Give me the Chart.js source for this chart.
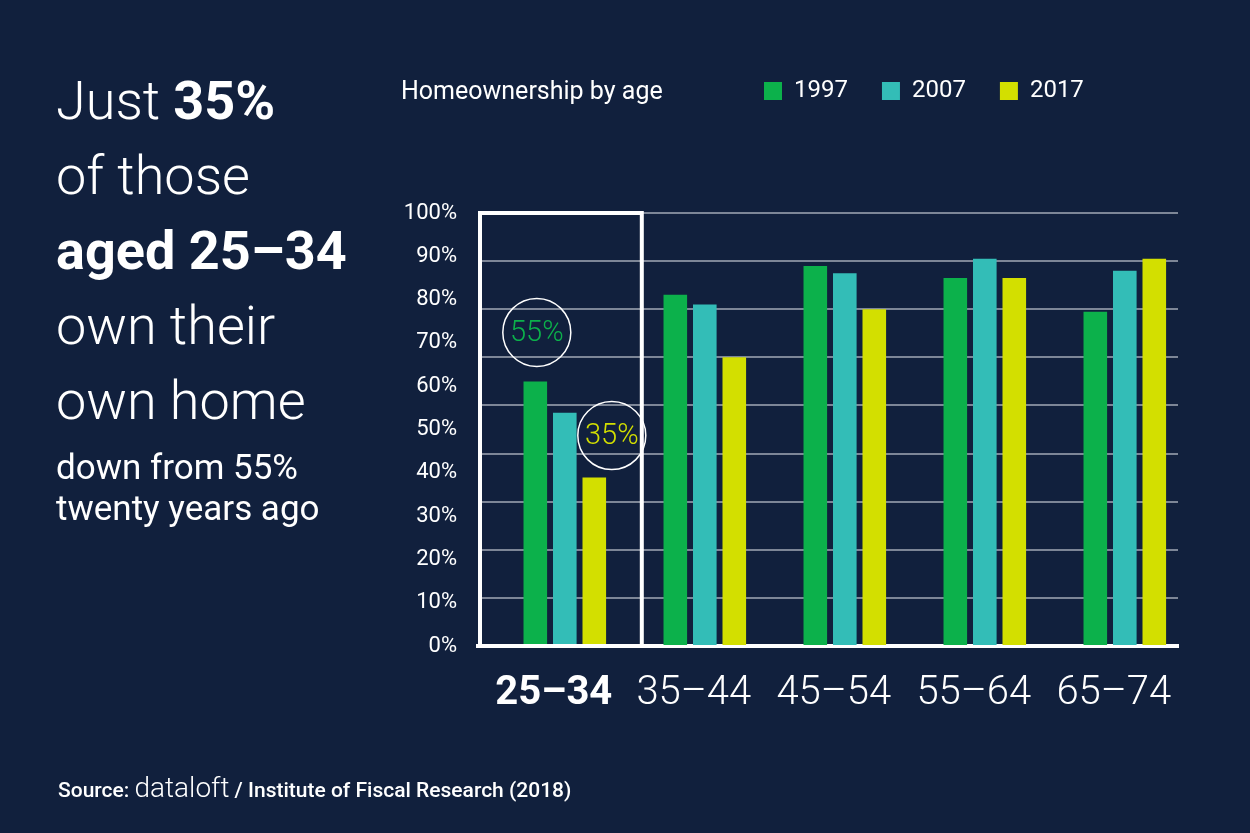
<!DOCTYPE html>
<html>
<head>
<meta charset="utf-8">
<script src="https://cdn.jsdelivr.net/npm/chart.js@4"></script>
<style>
  html, body { margin: 0; padding: 0; background: #11203d; }
  body { width: 1250px; height: 833px; position: relative; overflow: hidden; font-family: Roboto, "Noto Sans", sans-serif; color: #ffffff; }
  #c { position: absolute; left: 0; top: 0; }
  .headline { position: absolute; left: 56px; top: 63px; font-size: 54px; line-height: 75px; font-weight: 300; white-space: nowrap; }
  .headline b { font-weight: 700; }
  .sub { position: absolute; left: 56px; top: 447px; font-size: 35px; line-height: 41px; font-weight: 400; white-space: nowrap; }
  .ctitle { position: absolute; left: 401px; top: 78px; font-size: 25px; line-height: 25px; font-weight: 400; white-space: nowrap; }
  .source { position: absolute; left: 58px; top: 772px; font-size: 28px; line-height: 32px; white-space: nowrap; }
  .source .s { font-size: 21px; font-weight: 500; }
  .source .d { font-size: 28px; font-weight: 300; }
</style>
</head>
<body>
<canvas id="c" width="1250" height="833"></canvas>
<div class="headline">Just <b>35%</b><br>of those<br><b>aged 25–34</b><br>own their<br>own home</div>
<div class="sub">down from 55%<br>twenty years ago</div>
<div class="ctitle">Homeownership by age</div>
<div class="source"><span class="s">Source: </span><span class="d">dataloft</span><span class="s"> / Institute of Fiscal Research (2018)</span></div>
<script>
// ---- Data ----
const categories = ['25–34', '35–44', '45–54', '55–64', '65–74'];
const seriesNames = ['1997', '2007', '2017'];
const values1997 = [55, 73, 79, 76.5, 69.5];
const values2007 = [48.5, 71, 77.5, 80.5, 78];
const values2017 = [35, 60, 70, 76.5, 80.5];
const yTickLabels = ['0%', '10%', '20%', '30%', '40%', '50%', '60%', '70%', '80%', '90%', '100%'];

// ---- Styling ----
const GREEN = '#0cb14b';
const TEAL = '#33bdb7';
const YELLOW = '#d3df00';
const GRID = '#7d8697';
const LEGEND_LEFT = 764;
const LEGEND_TOP = 79;

const legendPlace = {
  id: 'legendPlace',
  afterLayout(chart) {
    const lg = chart.legend;
    if (!lg) return;
    const p = lg.options.labels.padding;
    const dx = (LEGEND_LEFT - p) - lg.left;
    const dy = (LEGEND_TOP - p) - lg.top;
    lg.left += dx; lg.right += dx; lg.top += dy; lg.bottom += dy;
  }
};

const highlight = {
  id: 'highlight',
  afterDatasetsDraw(chart) {
    const ctx = chart.ctx;
    const x = chart.scales.x;
    const area = chart.chartArea;
    const catW = x.getPixelForValue(1) - x.getPixelForValue(0);
    const right = x.getPixelForValue(0) + catW * 0.55;
    ctx.save();
    ctx.strokeStyle = '#ffffff';
    ctx.lineWidth = 4;
    ctx.strokeRect(area.left + 2, area.top, right - area.left - 2, area.bottom - area.top);

    const drawBubble = (cx, cy, text, color) => {
      ctx.beginPath();
      ctx.arc(cx, cy, 34, 0, Math.PI * 2);
      ctx.lineWidth = 1.5;
      ctx.strokeStyle = '#ffffff';
      ctx.stroke();
      ctx.fillStyle = color;
      ctx.font = '300 29px Roboto';
      ctx.textAlign = 'center';
      ctx.textBaseline = 'middle';
      ctx.fillText(text, cx, cy + 1);
    };
    const b0 = chart.getDatasetMeta(0).data[0];
    drawBubble(b0.x + 1.5, b0.y - 49, values1997[0] + '%', GREEN);
    const b2 = chart.getDatasetMeta(2).data[0];
    drawBubble(b2.x + 17.5, b2.y - 42, values2017[0] + '%', YELLOW);
    ctx.restore();
  }
};

const ds = (label, data, color) => ({
  label, data, backgroundColor: color, borderWidth: 0,
  categoryPercentage: 0.632, barPercentage: 0.8
});

new Chart(document.getElementById('c'), {
  type: 'bar',
  data: {
    labels: categories,
    datasets: [
      ds(seriesNames[0], values1997, GREEN),
      ds(seriesNames[1], values2007, TEAL),
      ds(seriesNames[2], values2017, YELLOW)
    ]
  },
  plugins: [legendPlace, highlight],
  options: {
    responsive: false,
    animation: false,
    layout: { padding: { left: 380, right: 72, top: 145, bottom: 91 } },
    plugins: {
      legend: {
        display: true,
        position: 'top',
        align: 'start',
        labels: {
          color: '#ffffff',
          font: { family: 'Roboto', size: 24, weight: '400' },
          boxWidth: 18,
          boxHeight: 18,
          padding: 34
        }
      },
      tooltip: { enabled: false },
      title: { display: false }
    },
    scales: {
      x: {
        offset: true,
        grid: { display: false, drawTicks: false },
        border: { display: true, color: '#ffffff', width: 4 },
        afterBuildTicks(s) { s._startValue -= 0.12; },
        ticks: {
          color: '#ffffff',
          padding: 24,
          labelOffset: -11,
          maxRotation: 0,
          autoSkip: false,
          font: (c) => ({ family: 'Roboto', size: 40, weight: c.index === 0 ? '700' : '300' })
        }
      },
      y: {
        position: 'left',
        min: 0,
        max: 90,
        grid: { color: GRID, lineWidth: 2, drawTicks: false },
        border: { display: false },
        ticks: { display: false, stepSize: 10 }
      },
      y2: {
        position: 'left',
        min: 0,
        max: 100,
        grid: { display: false, drawTicks: false },
        border: { display: false },
        afterFit(s) { s.width = 98; },
        ticks: {
          stepSize: 10,
          color: '#ffffff',
          padding: 21,
          font: { family: 'Roboto', size: 22, weight: '400' },
          callback: (v, i) => yTickLabels[i]
        }
      }
    }
  }
});
</script>
</body>
</html>
